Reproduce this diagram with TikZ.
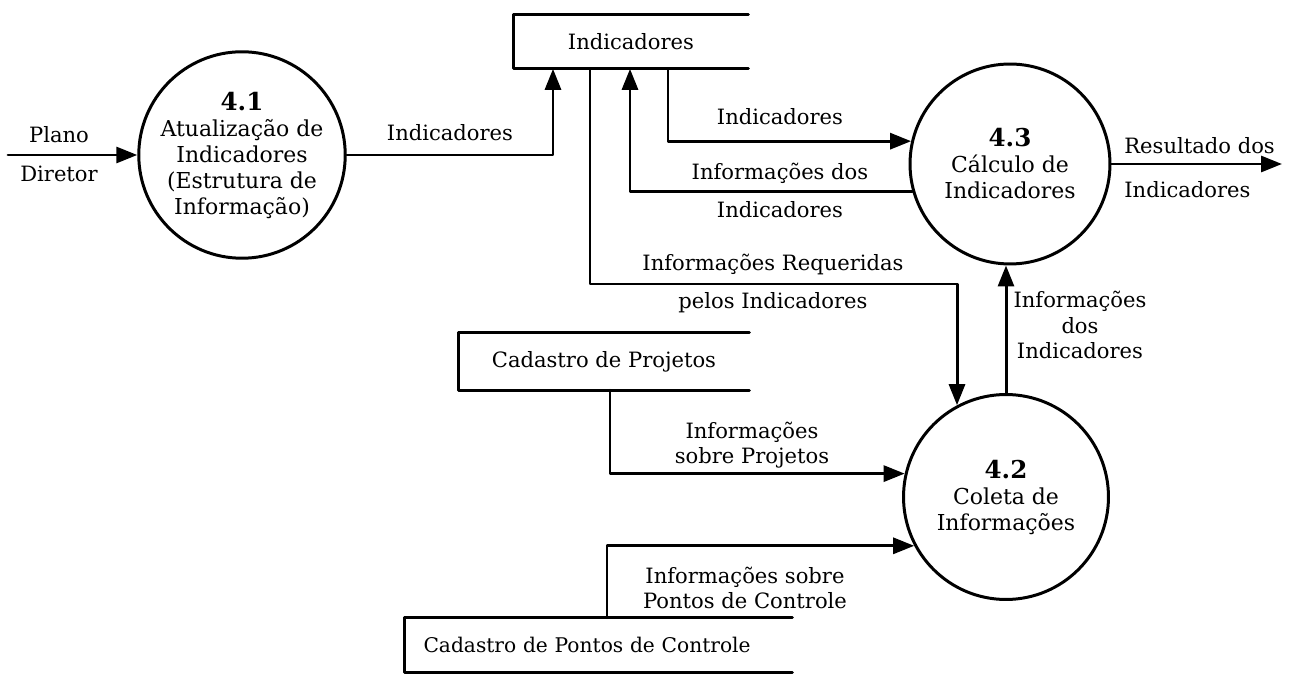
\documentclass[tikz,border=0pt]{standalone}
\usepackage{fontspec}
\setmainfont{DejaVu Serif}
\usetikzlibrary{arrows.meta}
\tikzset{
  proc/.style={circle,draw,line width=1.7pt,minimum size=4.1cm,inner sep=0pt,align=center,font=\fontsize{12.5}{14.8}\selectfont},
  store/.style={inner sep=0pt,minimum height=1.08cm},
  lbl/.style={inner sep=0pt,align=center},
  flow/.style={line width=1.7pt,->}
}
\newcommand{\procnum}[1]{{\fontsize{14}{15}\selectfont\textbf{#1}}}

\begin{document}
\begin{tikzpicture}[x=0.02cm,y=-0.02cm,line cap=round,line join=round,>={Triangle[length=0.42cm,width=0.32cm]},font=\fontsize{12}{14.3}\selectfont]
    \useasboundingbox (0,0) rectangle (1289,675);
    % processos
    \node[proc] (p41) at (242,155) {\procnum{4.1}\\Atualização de\\Indicadores\\(Estrutura de\\Informação)};
    \node[proc,minimum size=4cm] (p43) at (1010,164) {\procnum{4.3}\\Cálculo de\\Indicadores};
    \node[proc] (p42) at (1006,497) {\procnum{4.2}\\Coleta de\\Informações};
    % depositos
    \node[store,minimum width=4.68cm] (ind) at (631,41.5) {Indicadores};
    \node[store,minimum width=5.8cm,minimum height=1.14cm] (proj) at (604,361.5) {Cadastro de Projetos};
    \node[store,font=\fontsize{11.5}{14}\selectfont,inner xsep=0.37cm,text width=7cm,align=left] (pontos) at (598.5,645) {Cadastro de Pontos de Controle};
    \foreach \s in {ind,proj,pontos}
        \draw[line width=1.7pt] (\s.north east) -- (\s.north west) -- (\s.south west) -- (\s.south east);
    % pontos auxiliares
    \coordinate (src) at (8,155);
    \coordinate (dst) at (1282,164);
    \coordinate (c1) at (553,0);
    \coordinate (c2) at (590,0);
    \coordinate (c3) at (668,0);
    \coordinate (c4) at (957,284);
    \coordinate (c5) at (630,0);
    \coordinate (c6) at (610,0);
    \coordinate (c7) at (607,0);
    % fluxos
    \draw[flow] (src) -- (p41.west);
    \draw[flow] (p41.east) -| (ind.south -| c1);
    \draw[flow] (ind.south -| c3) |- (p43.167);
    \draw[flow] (p43.196) -| (ind.south -| c5);
    \draw[flow] (ind.south -| c2) |- (c4) -- (c4 |- p42.118);
    \draw[flow] (p43.east) -- (dst);
    \draw[flow] (p42.north) -- (p42.north |- p43.south);
    \draw[flow] (proj.south -| c6) |- (p42.167);
    \draw[flow] (pontos.north -| c7) |- (p42.208);
    % rotulos
    \node[lbl] (l1) at (59,135) {Plano};
    \node[lbl] (l2) at (59,174) {Diretor};
    \node[lbl] (l3) at (450,133) {Indicadores};
    \node[lbl] (l4) at (780,117) {Indicadores};
    \node[lbl] (l5) at (780,173) {Informações dos};
    \node[lbl] (l6) at (780,210) {Indicadores};
    \node[lbl] (l7) at (773,265) {Informações Requeridas};
    \node[lbl] (l8) at (773,303) {pelos Indicadores};
    \node[lbl] (l9) at (1080,325) {Informações\\dos\\Indicadores};
    \node[lbl] (l10) at (752,445) {Informações\\sobre Projetos};
    \node[lbl] (l11) at (745,588) {Informações sobre\\Pontos de Controle};
    \node[lbl,anchor=west] (l12) at (1124,146) {Resultado dos};
    \node[lbl,anchor=west] (l13) at (1124,190) {Indicadores};
\end{tikzpicture}
\end{document}
